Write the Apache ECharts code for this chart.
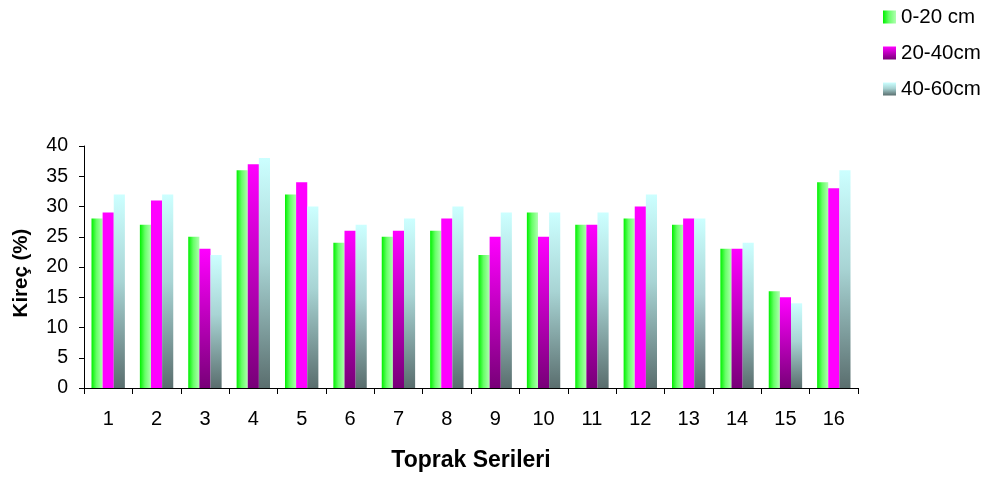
<!DOCTYPE html>
<html>
<head>
<meta charset="utf-8">
<style>
  html, body { margin: 0; padding: 0; background: #ffffff; }
  #chart { width: 997px; height: 479px; }
</style>
<script src="https://cdn.jsdelivr.net/npm/echarts@6/dist/echarts.min.js"></script>
</head>
<body>
<div id="chart"></div>
<script>
// Soil series and lime content (%) by sampling depth
const categories = ['1', '2', '3', '4', '5', '6', '7', '8', '9', '10', '11', '12', '13', '14', '15', '16'];
const depth0_20 = [28, 27, 25, 36, 32, 24, 25, 26, 22, 29, 27, 28, 27, 23, 16, 34];
const depth20_40 = [29, 31, 23, 37, 34, 26, 26, 28, 25, 25, 27, 30, 28, 23, 15, 33];
const depth40_60 = [32, 32, 22, 38, 30, 27, 28, 30, 29, 29, 29, 32, 28, 24, 14, 36];
const seriesNames = ['0-20 cm', '20-40cm', '40-60cm'];
const yTicks = { min: 0, max: 40, interval: 5 };

// fill shading of the middle series: true = flat magenta, false = magenta fading to purple
const flatMagenta = [true, true, false, false, true, false, false, true, false, false, false, true, true, false, false, true];

const FONT = '"Liberation Sans", Arial, sans-serif';

const greenFill = new echarts.graphic.LinearGradient(0, 0, 1, 0, [
  { offset: 0, color: '#00f000' },
  { offset: 0.45, color: '#66ff66' },
  { offset: 1, color: '#b0ffb0' }
]);
const purpleFill = new echarts.graphic.LinearGradient(0, 0, 0, 1, [
  { offset: 0, color: '#ff00ff' },
  { offset: 1, color: '#780078' }
]);
const cyanFill = new echarts.graphic.LinearGradient(0, 0, 0, 1, [
  { offset: 0, color: '#ccffff' },
  { offset: 0.45, color: '#a8d4d4' },
  { offset: 1, color: '#5a6e6e' }
]);

const magentaData = depth20_40.map((v, i) => ({
  value: v,
  itemStyle: { color: flatMagenta[i] ? '#ff00ff' : purpleFill }
}));

const barCommon = {
  type: 'bar',
  barGap: '0%',
  barCategoryGap: '31%'
};

const chart = echarts.init(document.getElementById('chart'), null, { renderer: 'canvas' });
chart.setOption({
  backgroundColor: '#ffffff',
  animation: false,
  textStyle: { fontFamily: FONT, color: '#000000' },
  grid: { left: 84, right: 139, top: 146, bottom: 91, containLabel: false },
  legend: {
    orient: 'vertical',
    left: 883,
    top: 6,
    padding: 0,
    itemWidth: 13,
    itemHeight: 13,
    itemGap: 14,
    icon: 'rect',
    textStyle: { fontFamily: FONT, fontSize: 20.5, color: '#000000', lineHeight: 22 },
    data: [
      { name: seriesNames[0], itemStyle: { color: greenFill } },
      { name: seriesNames[1], itemStyle: { color: purpleFill } },
      { name: seriesNames[2], itemStyle: { color: cyanFill } }
    ]
  },
  xAxis: {
    type: 'category',
    data: categories,
    boundaryGap: true,
    name: 'Toprak Serileri',
    nameLocation: 'middle',
    nameGap: 61,
    nameTextStyle: { fontFamily: FONT, fontSize: 23, fontWeight: 'bold', color: '#000000' },
    axisLine: { show: true, lineStyle: { color: '#000000', width: 1 } },
    axisTick: { show: true, alignWithLabel: false, length: 6, lineStyle: { color: '#000000' } },
    axisLabel: { fontFamily: FONT, fontSize: 20, color: '#000000', margin: 21 },
    splitLine: { show: false }
  },
  yAxis: {
    type: 'value',
    min: yTicks.min,
    max: yTicks.max,
    interval: yTicks.interval,
    name: 'Kireç (%)',
    nameLocation: 'middle',
    nameRotate: 90,
    nameGap: 52,
    nameTextStyle: { fontFamily: FONT, fontSize: 20.5, fontWeight: 'bold', color: '#000000', padding: [0, 0, 0, -12] },
    axisLine: { show: true, lineStyle: { color: '#000000', width: 1 } },
    axisTick: { show: true, length: 5, lineStyle: { color: '#000000' } },
    axisLabel: { fontFamily: FONT, fontSize: 19.5, color: '#000000', margin: 16 },
    splitLine: { show: false }
  },
  series: [
    Object.assign({}, barCommon, { name: seriesNames[0], data: depth0_20, itemStyle: { color: greenFill } }),
    Object.assign({}, barCommon, { name: seriesNames[1], data: magentaData, itemStyle: { color: purpleFill } }),
    Object.assign({}, barCommon, { name: seriesNames[2], data: depth40_60, itemStyle: { color: cyanFill } })
  ]
});
</script>
</body>
</html>
